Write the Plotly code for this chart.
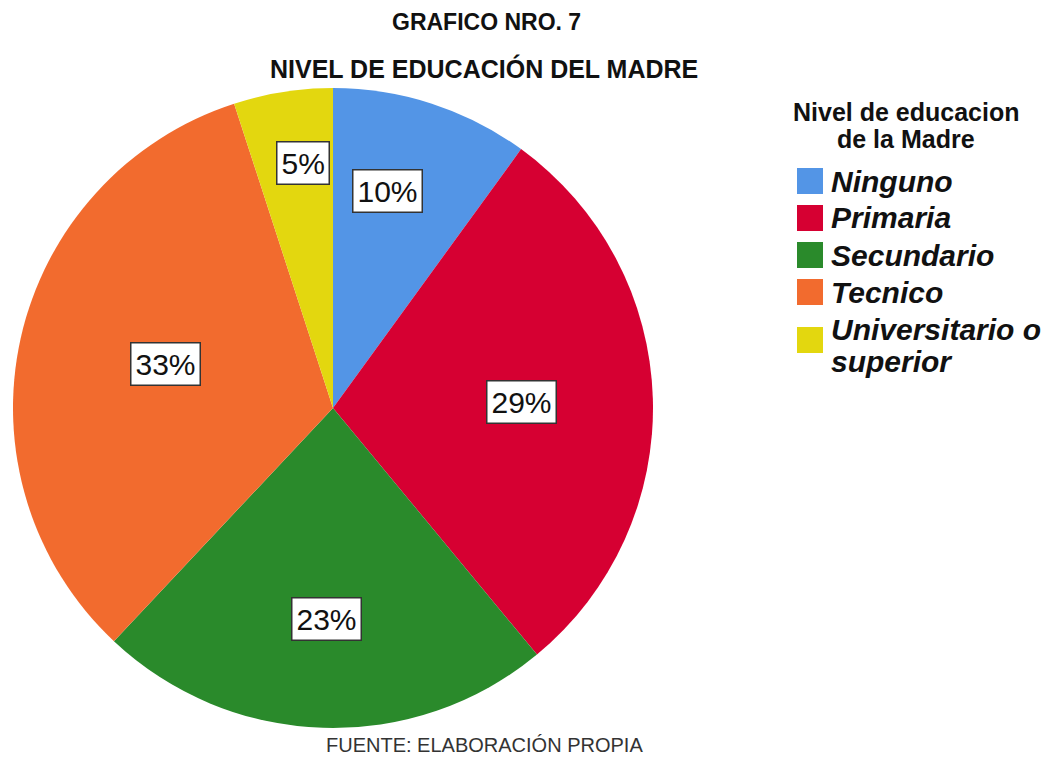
import math
import plotly.graph_objects as go

# data
niveles = ["Ninguno", "Primaria", "Secundario", "Tecnico", "Universitario o<br>superior"]
porcentajes = [10, 29, 23, 33, 5]
colores = ["#5395E6", "#D60032", "#2A8A2B", "#F26B2E", "#E3D70F"]

# the page body has an 8px margin, so the figure is a bit smaller than the window
OFF = 8
W, H = 1063 - 2 * OFF, 763 - 2 * OFF
cx, cy, R = 333, 408, 320  # pie centre / radius in window pixels
label_r = [0.70, 0.59, 0.66, 0.54, 0.77]  # how far out each box sits
label_da = [-4, 0, 0, 2, 2]  # small angular nudge (deg) like the original
FONT = "Liberation Sans, Arial"


def fx(x):
    return (x - OFF) / W


def fy(y):
    return 1 - (y - OFF) / H


fig = go.Figure(go.Pie(
    labels=[n.replace("<br>", " ") for n in niveles],
    values=porcentajes,
    marker=dict(colors=colores, line=dict(width=0)),
    sort=False,
    direction="clockwise",
    rotation=0,
    textinfo="none",
    hoverinfo="label+percent",
    showlegend=False,
    domain=dict(x=[fx(cx - R), fx(cx + R)], y=[fy(cy + R), fy(cy - R)]),
))

# percentage boxes
total = sum(porcentajes)
acum = 0
for i, v in enumerate(porcentajes):
    mid = (acum + v / 2) / total * 2 * math.pi + math.radians(label_da[i])
    acum += v
    px = cx + label_r[i] * R * math.sin(mid)
    py = cy - label_r[i] * R * math.cos(mid)
    fig.add_annotation(
        x=fx(px), y=fy(py), xref="paper", yref="paper",
        xanchor="center", yanchor="middle",
        text=f"{round(v / total * 100)}%", showarrow=False,
        font=dict(family=FONT, size=30, color="#111"),
        bgcolor="white", bordercolor="#333", borderwidth=1.5, borderpad=4,
    )


def texto(x, y, s, size, color="#111", xanchor="center"):
    fig.add_annotation(x=fx(x), y=fy(y), xref="paper", yref="paper", showarrow=False,
                       xanchor=xanchor, yanchor="middle", align=xanchor if xanchor != "center" else "center",
                       text=s, font=dict(family=FONT, size=size, color=color))


# titles
texto(486, 22, "<b>GRAFICO NRO. 7</b>", 23)
texto(484, 68, "<b>NIVEL DE EDUCACIÓN DEL MADRE</b>", 25)
texto(484, 745, "FUENTE: ELABORACIÓN PROPIA", 20, color="#333")

# legend drawn by hand so the swatches can be big
texto(906, 112, "<b>Nivel de educacion</b>", 25)
texto(906, 139, "<b>de la Madre</b>", 25)
rows_y = [181, 218, 255, 292, 340]
for i, nombre in enumerate(niveles):
    y0 = rows_y[i]
    fig.add_shape(type="rect", xref="paper", yref="paper",
                  x0=fx(797), x1=fx(823), y0=fy(y0 + 13), y1=fy(y0 - 13),
                  fillcolor=colores[i], line=dict(width=0))
    lineas = nombre.split("<br>")
    y_txt = y0 - 11 * (len(lineas) - 1)
    for linea in lineas:
        texto(829, y_txt, f"<b><i>{linea}</i></b>", 30, xanchor="left")
        y_txt += 32

fig.update_layout(
    width=W, height=H,
    margin=dict(l=0, r=0, t=0, b=0),
    paper_bgcolor="white",
    plot_bgcolor="white",
)

fig.write_html("out.html")
